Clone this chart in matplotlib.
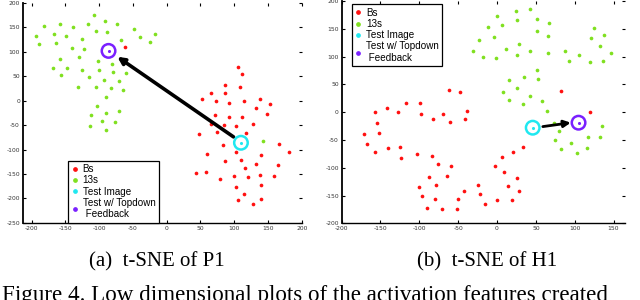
import matplotlib
matplotlib.use('Agg')
import matplotlib.pyplot as plt
from matplotlib.lines import Line2D

plt.rcParams['axes.unicode_minus'] = False

# colours
red = '#ff1010'
green = '#80e020'
cyan = '#20e8f0'
purple = '#7a20ff'

# ---- (a) t-SNE of P1 ----
p1_b_x = [-61, 105, 111, 87, 108, 65, 87, 53, 73, 93, 114, 138, 153, 132, 149, 72, 92, 112,
          65, 85, 103, 128, 48, 75, 118, 167, 181, 84, 103, 139, 60, 110, 86, 133, 165, 116,
          44, 59, 138, 100, 121, 159, 79, 103, 139, 114, 105, 140, 128]
p1_b_y = [109, 69, 54, 33, 28, 16, 15, 4, -1, -5, -1, 4, -7, -14, -27, -29, -34, -34,
          -47, -50, -51, -48, -69, -64, -66, -89, -104, -91, -104, -111, -109, -121, -123, -129, -131, -138,
          -148, -146, -152, -154, -157, -155, -161, -176, -173, -190, -204, -201, -211]
p1_13_x = [-108, -91, -73, -181, -158, -139, -117, -48, -17, -193, -166, -149, -125, -105, -88, -40,
           -189, -164, -140, -123, -67, -24, -158, -130, -102, -81, -168, -147, -125, -100, -80, -60,
           -156, -115, -92, -70, -131, -104, -82, -64, -90, -103, -112, -90, -71, -113, -96, -76, -90, 142]
p1_13_y = [176, 163, 158, 153, 157, 150, 157, 147, 136, 132, 137, 132, 126, 142, 141, 130,
           116, 118, 108, 106, 124, 121, 85, 89, 82, 76, 67, 68, 63, 62, 58, 57,
           52, 48, 42, 40, 29, 28, 27, 22, 8, -11, -29, -25, -22, -52, -41, -44, -59, -82]
p1_test = (110, -86)
p1_topdown = (-86, 102)
p1_arrow_tail = (99, -74)
p1_arrow_head = (-73, 90)

# ---- (b) t-SNE of H1 ----
h1_b_x = [83, 120, -62, -47, -157, -142, -127, -117, -99, -98, -69, -39, -83, -60, -41, -155, -171,
          -152, -167, -157, -140, -125, -124, -103, -84, -76, -59, -87, -64, -100, -78, -97, -43,
          -24, -22, -16, -80, -50, -90, -71, -51, 34, 21, 6, -3, 9, 26, 14, 28, 0, 19]
h1_b_y = [38, 0, 40, 37, 1, 8, 1, 16, 16, -3, -4, 2, -13, -17, -12, -20, -39,
          -38, -58, -72, -64, -62, -82, -76, -79, -94, -97, -117, -115, -134, -132, -151, -141,
          -132, -148, -165, -156, -156, -172, -175, -174, -62, -72, -81, -97, -107, -118, -133, -142, -158, -158]
h1_13_x = [43, 24, 0, 52, 26, 7, 67, -11, 52, 66, 125, 138, 121, -4, -23, 28, 132, 12, 42, 87,
           66, 147, -31, -18, -1, 26, 106, 93, 120, 137, 52, 35, 15, 53, 26, 8, 42, 15, 58, 33,
           65, 73, 80, 135, 117, 133, 75, 95, 82, 116, 103]
h1_13_y = [185, 182, 173, 168, 165, 156, 160, 153, 146, 137, 152, 138, 133, 135, 129, 122, 119, 113, 110, 110,
           106, 107, 110, 100, 98, 102, 103, 92, 90, 92, 76, 64, 57, 59, 44, 37, 29, 21, 20, 15,
           2, -19, -34, -25, -44, -45, -50, -55, -67, -64, -74]
h1_test = (46, -28)
h1_topdown = (105, -19)
h1_arrow_tail = (59, -26)
h1_arrow_head = (95, -19)

labels = ['Bs', '13s', 'Test Image', 'Test w/ Topdown\n Feedback']


def draw_panel(ax, bx, by, tx, ty, test, topdown, tail, head, lw_arrow):
    ax.scatter(bx, by, s=7, color=red, linewidths=0, zorder=2)
    ax.scatter(tx, ty, s=7, color=green, linewidths=0, zorder=2)
    ax.annotate('', xy=head, xytext=tail,
                arrowprops=dict(arrowstyle='-|>', color='black', lw=lw_arrow,
                                mutation_scale=10, shrinkA=0, shrinkB=0), zorder=3)
    ax.scatter(*test, s=95, facecolors='none', edgecolors=cyan, linewidths=1.8, zorder=4)
    ax.scatter(*test, s=5, color=cyan, linewidths=0, zorder=4)
    ax.scatter(*topdown, s=95, facecolors='none', edgecolors=purple, linewidths=1.8, zorder=4)
    ax.scatter(*topdown, s=5, color=purple, linewidths=0, zorder=4)

    for side in ['top', 'right']:
        ax.spines[side].set_visible(False)
    ax.spines['left'].set_linewidth(1.3)
    ax.spines['bottom'].set_linewidth(1.0)
    ax.tick_params(direction='in', length=2, width=0.8, top=True, right=True,
                   labelsize=4.3, labelcolor='#333333', pad=2)


def add_legend(ax, **kw):
    handles = [Line2D([], [], ls='none', marker='o', ms=2.4, color=c, mec=c)
               for c in [red, green, cyan, purple]]
    leg = ax.legend(handles, labels, prop={'family': 'Liberation Sans', 'size': 7.1},
                    frameon=True, fancybox=False, edgecolor='black', framealpha=1,
                    handlelength=0.6, handletextpad=0.5, labelspacing=0.12,
                    borderpad=0.35, borderaxespad=0, **kw)
    leg.get_frame().set_linewidth(0.9)


fig = plt.figure(figsize=(6.4, 3.0), dpi=100)

ax1 = fig.add_axes([0.0355, 0.257, 0.436, 0.733])
draw_panel(ax1, p1_b_x, p1_b_y, p1_13_x, p1_13_y, p1_test, p1_topdown,
           p1_arrow_tail, p1_arrow_head, 2.6)
ax1.set_xlim(-213, 200)
ax1.set_ylim(-250, 200)
ax1.set_xticks(range(-200, 201, 50))
ax1.set_yticks(range(-250, 201, 50))
add_legend(ax1, loc='lower left', bbox_to_anchor=(0.163, 0.0))

ax2 = fig.add_axes([0.5338, 0.2557, 0.443, 0.741])
draw_panel(ax2, h1_b_x, h1_b_y, h1_13_x, h1_13_y, h1_test, h1_topdown,
           h1_arrow_tail, h1_arrow_head, 2.0)
ax2.set_xlim(-200, 165)
ax2.set_ylim(-200, 200)
ax2.set_xticks(range(-200, 151, 50))
ax2.set_yticks(range(-200, 201, 50))
add_legend(ax2, loc='upper left', bbox_to_anchor=(0.035, 0.985))

serif = 'Liberation Serif'
fig.text(157 / 640, 1 - 262 / 300, '(a)  t-SNE of P1', ha='center', va='center',
         family=serif, fontsize=15)
fig.text(487 / 640, 1 - 262 / 300, '(b)  t-SNE of H1', ha='center', va='center',
         family=serif, fontsize=15)
fig.text(0.003, -0.004, 'Figure 4. Low dimensional plots of the activation features created',
         ha='left', va='baseline', family=serif, fontsize=16.6)

fig.savefig('out.png', dpi=100)
